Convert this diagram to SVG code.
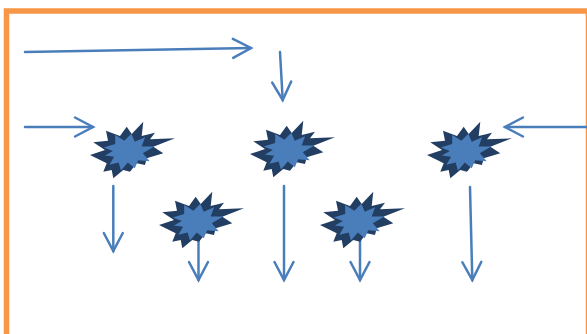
<svg xmlns="http://www.w3.org/2000/svg" xmlns:xlink="http://www.w3.org/1999/xlink" width="587" height="334" viewBox="0 0 587 334">
<style>
.frame{fill:#fff;stroke:#f79646;stroke-width:5.5}
.conn{fill:none;stroke:#4a7ebb;stroke-width:2.5;stroke-linecap:round;marker-end:url(#arr)}
.outer{fill:#233e63}
.inner{fill:#4a7ebb}
</style>
<defs>
<marker id="arr" markerUnits="userSpaceOnUse" markerWidth="24" markerHeight="24" viewBox="-20 -12 24 24" refX="0" refY="0" orient="auto" overflow="visible">
<path d="M-18,-9.5 L0,0 L-18,9.5" fill="none" stroke="#4a7ebb" stroke-width="2.5" stroke-linecap="round" stroke-linejoin="miter"/>
</marker>
<g id="boom">
<polygon class="outer" points="-36.7,-7.7 -22,-9.3 -24,-19.3 -10,-14 -3.3,-23.3 1.7,-16 13.3,-28.3 11.7,-14 25,-17.3 20,-10.7 45,-11.7 23.3,-3.3 33.3,3.3 16.7,8.3 15,15 6.7,13.3 0,21.7 -6.7,20 -16.7,28.3 -18.3,20 -26.7,21.7 -23.3,13.3 -40,5 -25,0"/>
<polygon class="inner" transform="translate(-1,1) scale(1.15)" points="-22,-3 -12,-6 -12,-14 -4,-9 2,-15 5,-8 14,-12 11,-4 22,-4 12,2 18,9 8,8 5,15 -1,10 -7,17 -9,10 -17,12 -13,5 -21,4 -14,0"/>
</g>
</defs>
<rect class="frame" x="6.5" y="11" width="582" height="340"/>
<g id="connectors">
<path class="conn" d="M25,52 L251,48"/>
<path class="conn" d="M280,52 L282.7,100"/>
<path class="conn" d="M25,127 L93,127"/>
<path class="conn" d="M587,127 L505,127"/>
<path class="conn" d="M113.3,186 L113.3,251"/>
<path class="conn" d="M198.5,236 L198.5,280"/>
<path class="conn" d="M284,186 L284,280"/>
<path class="conn" d="M360,236 L360,280"/>
<path class="conn" d="M470,187 L472.3,280"/>
</g>
<g id="explosion1"><use xlink:href="#boom" x="130" y="150"/></g>
<g id="explosion2"><use xlink:href="#boom" x="199" y="220"/></g>
<g id="explosion3"><use xlink:href="#boom" x="290" y="149"/></g>
<g id="explosion4"><use xlink:href="#boom" x="467" y="150"/></g>
<g id="explosion5"><use xlink:href="#boom" x="360" y="220"/></g>
</svg>
